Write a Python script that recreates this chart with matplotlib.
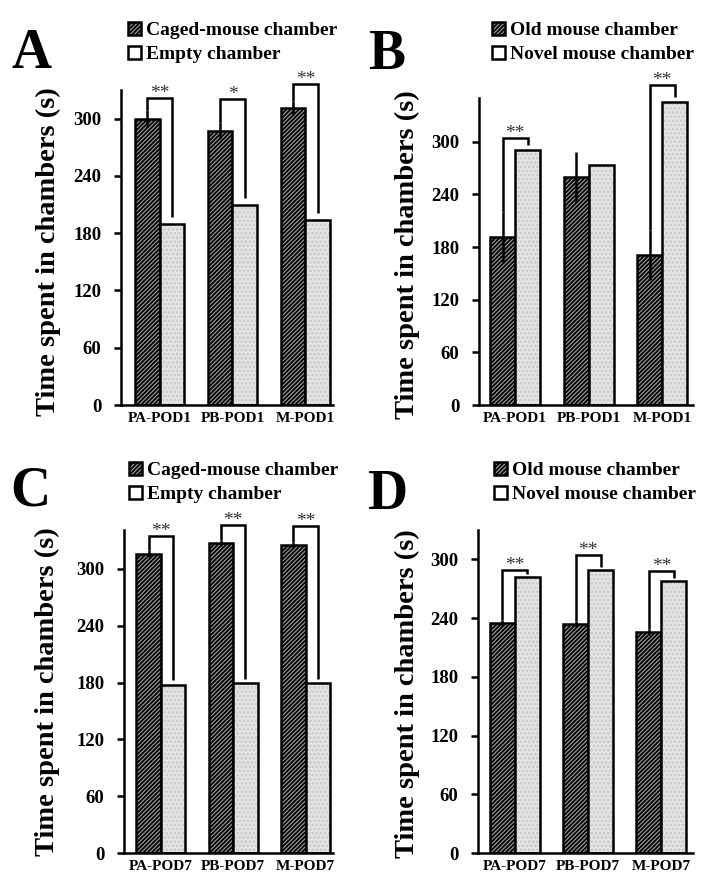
import matplotlib
matplotlib.use("Agg")
import matplotlib.pyplot as plt
import numpy as np

plt.rcParams['font.family'] = ['Liberation Serif', 'DejaVu Serif']
plt.rcParams['font.weight'] = 'bold'
plt.rcParams['hatch.linewidth'] = 1.3

# ---------------- data ----------------
cats_pod1 = ["PA-POD1", "PB-POD1", "M-POD1"]
cats_pod7 = ["PA-POD7", "PB-POD7", "M-POD7"]

legend_social = ["Caged-mouse chamber", "Empty chamber"]
legend_novel = ["Old mouse chamber", "Novel mouse chamber"]

# Panel A
a_caged = [300, 287, 311]
a_caged_err = [9, 8, 7]
a_empty = [190, 210, 194]
a_bracket = [322, 321, 336]
a_stars = ["**", "*", "**"]

# Panel B
b_old = [191, 260, 171]
b_old_err = [29, 28, 29]
b_novel = [291, 274, 346]
b_bracket = [304, None, 365]
b_stars = ["**", "", "**"]

# Panel C
c_caged = [316, 327, 325]
c_caged_err = [4, 3, 3]
c_empty = [177.5, 179, 179]
c_bracket = [335, 346, 345]
c_stars = ["**", "**", "**"]

# Panel D
d_old = [235, 234, 226]
d_old_err = [3, 3, 3]
d_novel = [282, 289, 278]
d_bracket = [289, 304.5, 288.5]
d_stars = ["**", "**", "**"]

yticks = [0, 60, 120, 180, 240, 300]
ylabel = "Time spent in chambers (s)"

# ---------------- figure ----------------
fig = plt.figure(figsize=(7.2, 8.85), dpi=100)

W, H = 720.0, 885.0
LW = 1.8
DARK_FACE = "#a0a0a0"
LIGHT_FACE = "#e4e4e4"
BW = 0.34


def px_axes(left, top, right, bottom):
    return fig.add_axes([left / W, 1 - bottom / H, (right - left) / W, (bottom - top) / H])


def draw_panel(ax, cats, v1, e1, v2, brackets, stars, ylim, xlim, gap):
    x = np.arange(len(cats))
    x1 = x - BW / 2
    x2 = x + BW / 2
    b1 = ax.bar(x1, v1, BW, facecolor=DARK_FACE, edgecolor="black",
                linewidth=LW, hatch="////////", zorder=2)
    ax.bar(x2, v2, BW, facecolor=LIGHT_FACE, edgecolor="#c8c8c8",
           linewidth=0, hatch="....", zorder=2)
    b2 = ax.bar(x2, v2, BW, facecolor="none", edgecolor="black",
                linewidth=LW, zorder=3)
    ax.errorbar(x1, v1, yerr=e1, fmt="none", ecolor="black",
                elinewidth=LW, capsize=0, zorder=4)
    for i in range(len(cats)):
        if brackets[i] is None:
            continue
        top = brackets[i]
        ax.plot([x1[i], x1[i], x2[i], x2[i]],
                [v1[i] + e1[i], top, top, v2[i] + gap],
                color="black", lw=LW, clip_on=False, zorder=5,
                solid_capstyle="butt", solid_joinstyle="miter")
        ax.annotate(stars[i], xy=((x1[i] + x2[i]) / 2, top), xytext=(0, 0),
                    textcoords="offset points", ha="center", va="baseline",
                    fontsize=14, fontweight="normal", color="#333333",
                    annotation_clip=False)
    ax.set_ylim(*ylim)
    ax.set_xlim(*xlim)
    ax.set_yticks(yticks)
    ax.set_xticks(x)
    ax.set_xticklabels(cats, fontsize=11, fontweight="bold")
    for lab in ax.get_yticklabels():
        lab.set_fontsize(13.5)
        lab.set_fontweight("bold")
    for s in ["top", "right"]:
        ax.spines[s].set_visible(False)
    for s in ["left", "bottom"]:
        ax.spines[s].set_linewidth(LW)
    ax.tick_params(axis="y", direction="out", length=5, width=LW, pad=9)
    ax.tick_params(axis="x", length=0, pad=5)
    return b1, b2


def add_legend(ax, handles, labels, left_px, top_px):
    ax.legend(handles, labels, loc="upper left",
              bbox_to_anchor=(left_px / W, 1 - top_px / H),
              bbox_transform=fig.transFigure, frameon=False,
              handlelength=0.65, handleheight=0.65, handletextpad=0.3,
              borderpad=0, borderaxespad=0, labelspacing=0.32,
              prop={"size": 14, "weight": "bold"})


# Panel A
axA = px_axes(121, 90, 333, 405)
hA = draw_panel(axA, cats_pod1, a_caged, a_caged_err, a_empty, a_bracket, a_stars,
                (0, 330), (-0.53, 2.38), 7)
add_legend(axA, hA, legend_social, 128, 22)

# Panel B
axB = px_axes(479, 98, 693, 405)
hB = draw_panel(axB, cats_pod1, b_old, b_old_err, b_novel, b_bracket, b_stars,
                (0, 350), (-0.49, 2.42), 5)
add_legend(axB, hB, legend_novel, 492, 22)

# Panel C
axC = px_axes(124, 530, 333, 853)
hC = draw_panel(axC, cats_pod7, c_caged, c_caged_err, c_empty, c_bracket, c_stars,
                (0, 341), (-0.51, 2.38), 5)
add_legend(axC, hC, legend_social, 129, 462)

# Panel D
axD = px_axes(478, 530, 693, 853)
hD = draw_panel(axD, cats_pod7, d_old, d_old_err, d_novel, d_bracket, d_stars,
                (0, 330), (-0.50, 2.43), 3)
add_legend(axD, hD, legend_novel, 494, 462)

# y labels
for (xc, yc) in [(48, 252), (407, 255), (47, 692), (407, 694)]:
    fig.text(xc / W, 1 - yc / H, ylabel, rotation=90, ha="center", va="center",
             fontsize=20.5, fontweight="bold")

# panel letters
for letter, (xc, yc) in zip("ABCD", [(32, 48), (387, 49), (30, 486), (387, 489)]):
    fig.text(xc / W, 1 - yc / H, letter, ha="center", va="center_baseline",
             fontsize=40, fontweight="bold")

fig.savefig("out.png", dpi=100)
